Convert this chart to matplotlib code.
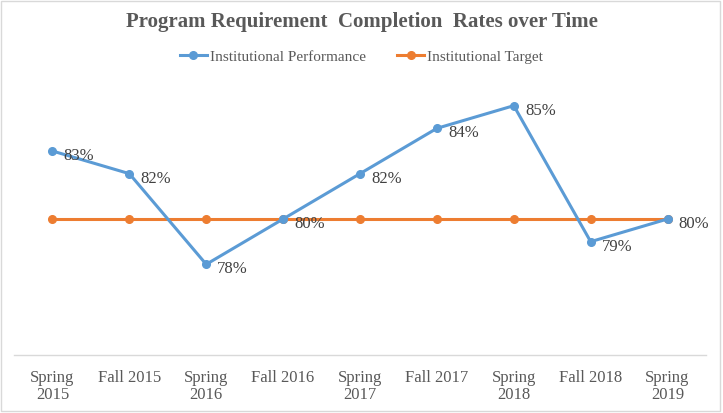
import matplotlib.pyplot as plt
from matplotlib.patches import Rectangle

categories = ['Spring\n2015', 'Fall 2015', 'Spring\n2016', 'Fall 2016', 'Spring\n2017',
              'Fall 2017', 'Spring\n2018', 'Fall 2018', 'Spring\n2019']
performance = [83, 82, 78, 80, 82, 84, 85, 79, 80]
target = [80, 80, 80, 80, 80, 80, 80, 80, 80]

blue = '#5B9BD5'
orange = '#ED7D31'
grid_color = '#D9D9D9'
text_color = '#404040'

plt.rcParams['font.family'] = ['Liberation Serif', 'DejaVu Serif']

fig = plt.figure(figsize=(7.23, 4.14), dpi=100, facecolor='white')
ax = fig.add_axes([14 / 723, 58 / 414, 692 / 723, 272 / 414])

x = list(range(len(categories)))
ax.plot(x, performance, color=blue, linewidth=2.2, marker='o', markersize=5.5,
        label='Institutional Performance', zorder=3)
ax.plot(x, target, color=orange, linewidth=2.2, marker='o', markersize=5.5,
        label='Institutional Target', zorder=2)

for xi, v in zip(x, performance):
    ax.annotate(f'{v}%', (xi, v), xytext=(8, -3), textcoords='offset points',
                ha='left', va='center', fontsize=12, color=text_color, zorder=4)

ax.set_xlim(-0.5, len(categories) - 0.5)
ax.set_ylim(74, 86)
ax.set_xticks(x)
ax.set_xticklabels(categories, fontsize=12, color='#595959', linespacing=1.1)
ax.tick_params(axis='x', length=0, pad=10)
ax.set_yticks([])
for side in ['left', 'right', 'top']:
    ax.spines[side].set_visible(False)
ax.spines['bottom'].set_color(grid_color)
ax.spines['bottom'].set_linewidth(1)

fig.text(0.5, 1 - 22 / 414, 'Program Requirement  Completion  Rates over Time',
         ha='center', va='center', fontsize=15, fontweight='bold', color='#595959')

fig.legend(loc='center', bbox_to_anchor=(0.5, 1 - 57 / 414), ncol=2, frameon=False,
           fontsize=11, handlelength=1.8, columnspacing=2.0, handletextpad=0.2,
           labelcolor='#595959')

fig.patches.append(Rectangle((0.002, 0.006), 0.994, 0.99, transform=fig.transFigure,
                             fill=False, edgecolor=grid_color, linewidth=1))

fig.savefig('out.png', dpi=100)
